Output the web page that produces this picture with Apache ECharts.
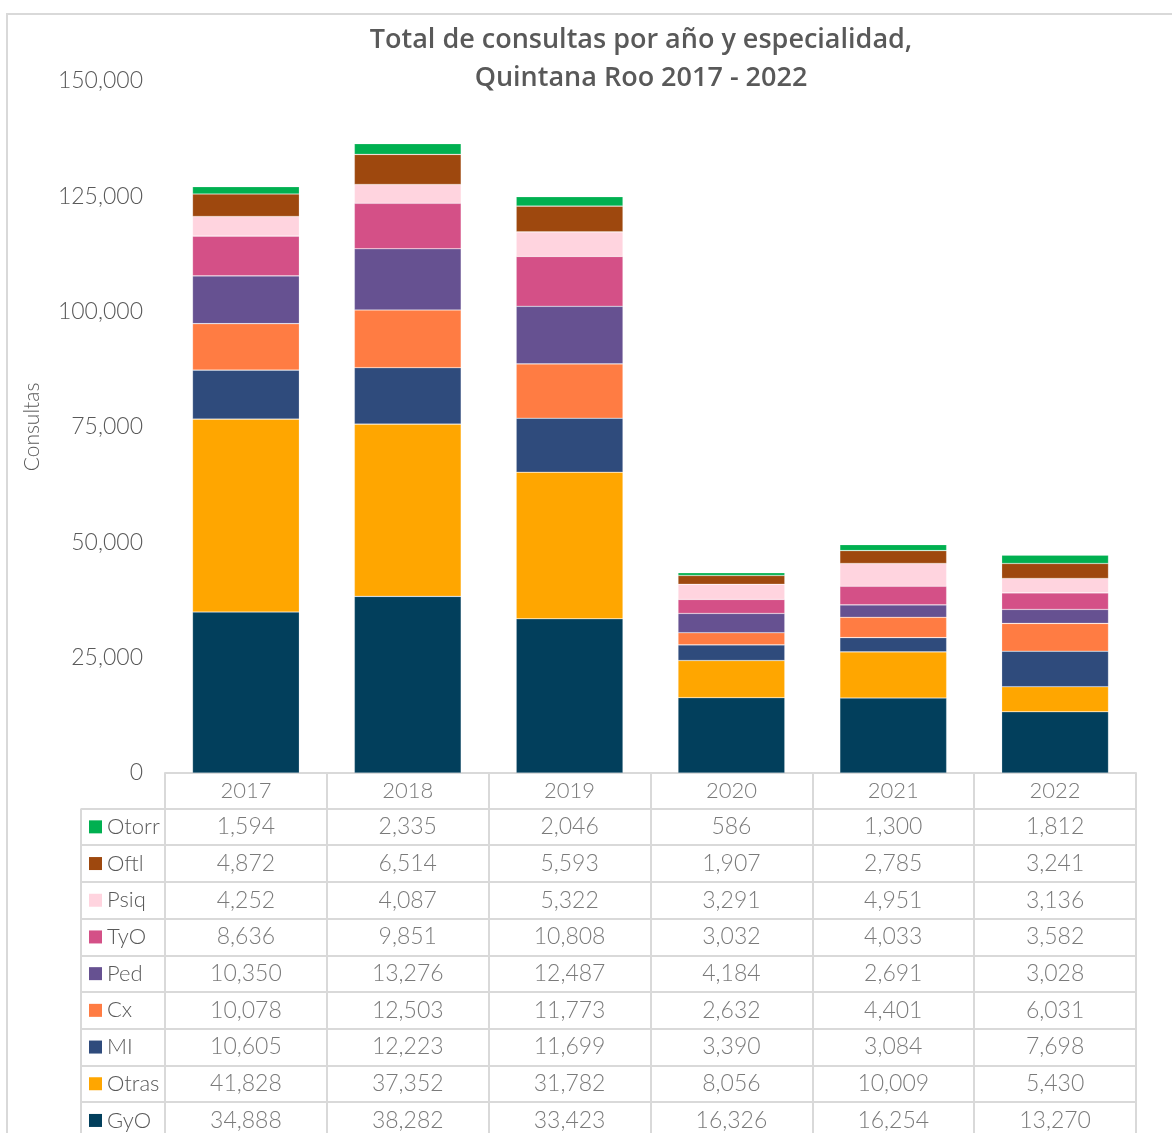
<!DOCTYPE html>
<html><head><meta charset="utf-8">
<script src="https://cdn.jsdelivr.net/npm/echarts@6/dist/echarts.min.js"></script>
<style>html,body{margin:0;padding:0;background:#fff;overflow:hidden}#c{width:1172px;height:1160px}</style>
</head><body><div id="c"></div>
<script>
const years = ['2017', '2018', '2019', '2020', '2021', '2022'];
const GyO   = [34888, 38282, 33423, 16326, 16254, 13270];
const Otras = [41828, 37352, 31782, 8056, 10009, 5430];
const MI    = [10605, 12223, 11699, 3390, 3084, 7698];
const Cx    = [10078, 12503, 11773, 2632, 4401, 6031];
const Ped   = [10350, 13276, 12487, 4184, 2691, 3028];
const TyO   = [8636, 9851, 10808, 3032, 4033, 3582];
const Psiq  = [4252, 4087, 5322, 3291, 4951, 3136];
const Oftl  = [4872, 6514, 5593, 1907, 2785, 3241];
const Otorr = [1594, 2335, 2046, 586, 1300, 1812];
const yMin = 0, yMax = 150000, yStep = 25000;
const titleLines = ['Total de consultas por año y especialidad,', 'Quintana Roo 2017 - 2022'];
const yName = 'Consultas';

const names  = ['GyO', 'Otras', 'MI', 'Cx', 'Ped', 'TyO', 'Psiq', 'Oftl', 'Otorr'];
const values = [GyO, Otras, MI, Cx, Ped, TyO, Psiq, Oftl, Otorr];
const colors = ['#023F5C', '#FFA600', '#2F4B7C', '#FF7C43', '#665191', '#D45087', '#FFD4DF', '#9E480E', '#00B050'];

const FONT = 'Lato';
const TXT = '#595959';
const LINE = '#d9d9d9';
const HDR = 35.5;
const ROW = 36.7;
const PLOT_LEFT = 165, PLOT_RIGHT = 36, PLOT_TOP = 81, PLOT_BOTTOM_Y = 773;

const tableNames = names.slice().reverse();
const tableValues = values.slice().reverse();
const fmt = v => v.toLocaleString('en-US');

const tableData = [];
years.forEach((y, i) => tableData.push({ value: [i, 0], t: y }));
tableValues.forEach((arr, r) => arr.forEach((v, i) => tableData.push({ value: [i, r], t: fmt(v) })));
const headerData = tableData.filter((d, k) => k < years.length);
const bodyData = tableData.filter((d, k) => k >= years.length);

const rich = {};
tableNames.forEach((n, i) => {
  rich['sq' + i] = { backgroundColor: colors[names.indexOf(n)], width: 13, height: 13 };
});
rich.t = { fontFamily: FONT, fontWeight: 300, fontSize: 22, color: TXT, padding: [0, 0, 0, 5] };

const barSeries = names.map((n, k) => ({
  name: n, type: 'bar', stack: 'total', xAxisIndex: 0, yAxisIndex: 0,
  barWidth: '66%', data: values[k],
  itemStyle: { color: colors[k], borderColor: 'rgba(255,255,255,0.35)', borderWidth: 0.6 }
}));

const splitStyle = { show: true, interval: 0, lineStyle: { color: LINE, width: 2 } };
const labelStyle = { fontFamily: FONT, fontWeight: 300, fontSize: 23, color: TXT };

const chart = echarts.init(document.getElementById('c'), null, { renderer: 'canvas' });
chart.setOption({
  backgroundColor: '#fff',
  animation: false,
  title: {
    text: titleLines.join('\n'), left: 636, top: 16, textAlign: 'center',
    textStyle: { fontFamily: 'Open Sans', fontWeight: 600, fontSize: 27, color: TXT, lineHeight: 38 }
  },
  graphic: [{
    type: 'rect', silent: true, z: -1,
    shape: { x: 7, y: 14, width: 1300, height: 1300 },
    style: { fill: 'none', stroke: LINE, lineWidth: 2 }
  }],
  grid: [
    { left: PLOT_LEFT, right: PLOT_RIGHT, top: PLOT_TOP, height: PLOT_BOTTOM_Y - PLOT_TOP },
    { left: PLOT_LEFT, right: PLOT_RIGHT, top: PLOT_BOTTOM_Y, height: HDR },
    { left: PLOT_LEFT, right: PLOT_RIGHT, top: PLOT_BOTTOM_Y + HDR, height: ROW * 9 },
    { left: 81, width: PLOT_LEFT - 81, top: PLOT_BOTTOM_Y + HDR, height: ROW * 9 }
  ],
  xAxis: [
    { gridIndex: 0, type: 'category', data: years, axisLine: { show: false }, axisTick: { show: false }, axisLabel: { show: false } },
    { gridIndex: 1, type: 'category', data: years, position: 'top',
      axisLine: { show: true, lineStyle: { color: LINE, width: 2 } }, axisTick: { show: false }, axisLabel: { show: false },
      splitLine: splitStyle },
    { gridIndex: 2, type: 'category', data: years, position: 'top',
      axisLine: { show: true, lineStyle: { color: LINE, width: 2 } }, axisTick: { show: false }, axisLabel: { show: false },
      splitLine: splitStyle },
    { gridIndex: 3, type: 'category', data: [''], axisLine: { show: false }, axisTick: { show: false }, axisLabel: { show: false },
      splitLine: splitStyle }
  ],
  yAxis: [
    { gridIndex: 0, type: 'value', min: yMin, max: yMax, interval: yStep,
      name: yName, nameLocation: 'middle', nameRotate: 90, nameGap: 122,
      nameTextStyle: { fontFamily: FONT, fontWeight: 300, fontSize: 21, color: TXT },
      axisLine: { show: false }, axisTick: { show: false }, splitLine: { show: false },
      axisLabel: Object.assign({ margin: 22, formatter: v => fmt(v) }, labelStyle) },
    { gridIndex: 1, type: 'category', data: ['hdr'],
      axisLine: { show: false }, axisTick: { show: false }, axisLabel: { show: false },
      splitLine: splitStyle },
    { gridIndex: 2, type: 'category', inverse: true, data: tableNames,
      axisLine: { show: false }, axisTick: { show: false }, axisLabel: { show: false },
      splitLine: splitStyle },
    { gridIndex: 3, type: 'category', inverse: true, data: tableNames,
      axisLine: { show: false }, axisTick: { show: false },
      axisLabel: { inside: true, margin: 8, align: 'left', interval: 0,
        formatter: (v, i) => '{sq' + i + '|}{t|' + v + '}', rich: rich },
      splitLine: splitStyle }
  ],
  series: barSeries.concat([{
    type: 'scatter', xAxisIndex: 1, yAxisIndex: 1, symbolSize: 0, data: headerData, silent: true,
    label: Object.assign({ show: true, position: 'inside', formatter: p => p.data.t }, labelStyle, { fontSize: 22 })
  }, {
    type: 'scatter', xAxisIndex: 2, yAxisIndex: 2, symbolSize: 0, data: bodyData, silent: true,
    label: Object.assign({ show: true, position: 'inside', formatter: p => p.data.t }, labelStyle)
  }])
});
</script>
</body></html>
